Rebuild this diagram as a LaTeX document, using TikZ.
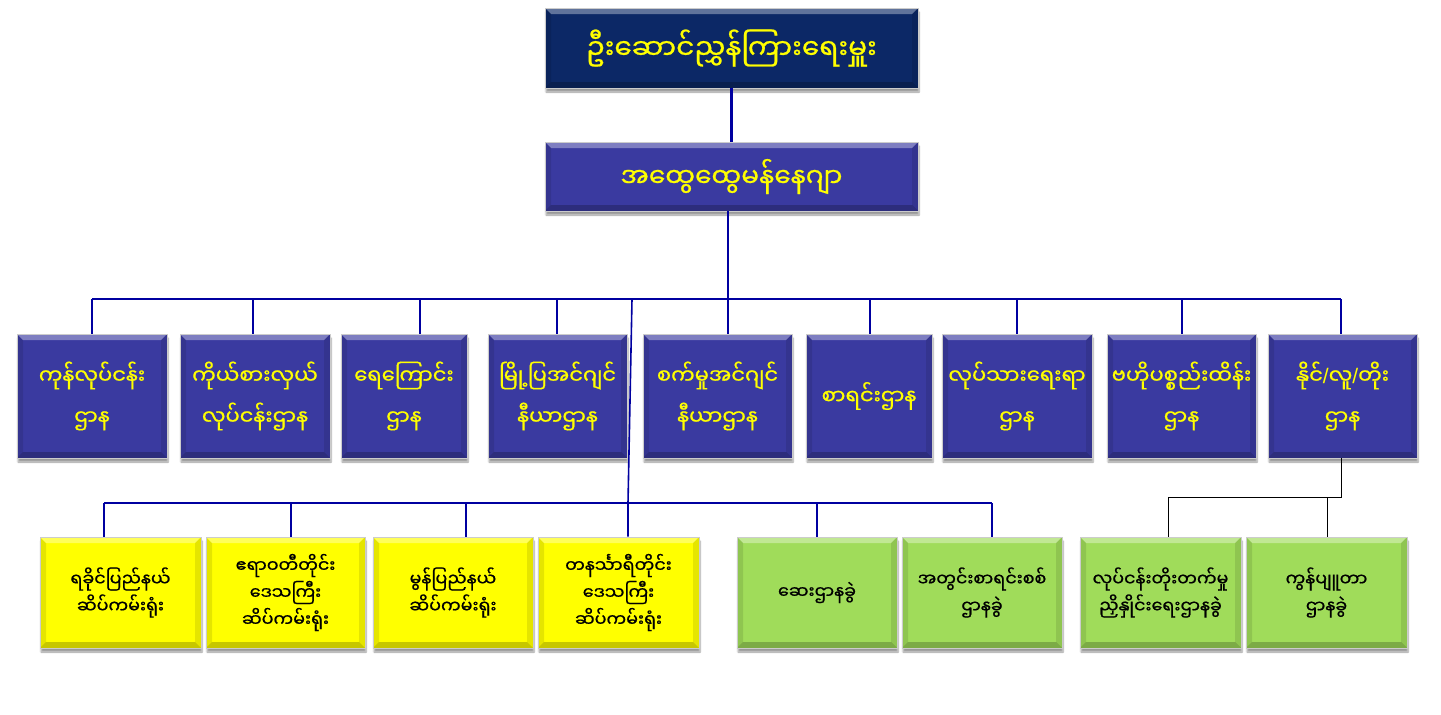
\documentclass[tikz,border=0pt]{standalone}
\usepackage{fontspec}
\newfontfamily\my[Script=Myanmar,FakeBold=0.8]{Noto Sans Myanmar UI}
\newfontfamily\lat{Liberation Sans}
\usetikzlibrary{shadows.blur,calc}
\definecolor{navy}{RGB}{12,40,102}
\definecolor{slate}{RGB}{58,58,160}
\definecolor{ylw}{RGB}{255,255,0}
\definecolor{grn}{RGB}{160,220,90}
\definecolor{conn}{RGB}{0,0,160}
\definecolor{txty}{RGB}{255,255,0}
\tikzset{
  bev/.style={path picture={
    \fill[white,opacity=.35] (path picture bounding box.north west) -- (path picture bounding box.north east)
      -- ([shift={(-6pt,-6pt)}]path picture bounding box.north east) -- ([shift={(6pt,-6pt)}]path picture bounding box.north west) -- cycle;
    \fill[black,opacity=.22] (path picture bounding box.south west) -- (path picture bounding box.south east)
      -- ([shift={(-6pt,6pt)}]path picture bounding box.south east) -- ([shift={(6pt,6pt)}]path picture bounding box.south west) -- cycle;
    \fill[black,opacity=.10] (path picture bounding box.north west) -- ([shift={(6pt,-6pt)}]path picture bounding box.north west)
      -- ([shift={(6pt,6pt)}]path picture bounding box.south west) -- (path picture bounding box.south west) -- cycle;
    \fill[black,opacity=.10] (path picture bounding box.north east) -- ([shift={(-6pt,-6pt)}]path picture bounding box.north east)
      -- ([shift={(-6pt,6pt)}]path picture bounding box.south east) -- (path picture bounding box.south east) -- cycle;
  }},
  box/.style={draw=black!20, line width=0.8pt, bev, inner sep=0pt, align=center,
    blur shadow={shadow xshift=1pt, shadow yshift=-4pt, shadow blur steps=6, shadow opacity=40}},
  topbox/.style={box, fill=navy, text=txty, minimum width=373pt, minimum height=80pt,
    font=\my\fontsize{28}{36}\selectfont},
  gmbox/.style={box, fill=slate, text=txty, minimum width=373pt, minimum height=69pt,
    font=\my\fontsize{26.5}{34}\selectfont},
  deptbox/.style={box, fill=slate, text=txty, minimum height=124pt,
    font=\my\fontsize{21}{41}\selectfont},
  ybox/.style={box, fill=ylw, text=black, minimum height=111pt,
    font=\my\fontsize{17.5}{27}\selectfont},
  gbox/.style={box, fill=grn, text=black, minimum height=111pt,
    font=\my\fontsize{17.5}{27}\selectfont},
  thickconn/.style={draw=conn, line width=3pt},
  busline/.style={draw=conn, line width=2.6pt},
  dropline/.style={draw=conn, line width=1.6pt},
  blackline/.style={draw=black, line width=1pt},
}
\begin{document}
\begin{tikzpicture}[x=1pt,y=-1pt]
\useasboundingbox (0,0) rectangle (1441,715);
% top
\node[topbox] (ceo) at (731.5,48) {ဦးဆောင်ညွှန်ကြားရေးမှူး};
\node[gmbox] (gm) at (731.5,176.5) {အထွေထွေမန်နေဂျာ};
% row 1
\node[deptbox, minimum width=150pt] (r1) at (92,396) {ကုန်လုပ်ငန်း\\ဌာန};
\node[deptbox, minimum width=150pt] (r2) at (255,396) {ကိုယ်စားလှယ်\\လုပ်ငန်းဌာန};
\node[deptbox, minimum width=126pt] (r3) at (404,396) {ရေကြောင်း\\ဌာန};
\node[deptbox, minimum width=139pt] (r4) at (557.5,396) {မြို့ပြအင်ဂျင်\\နီယာဌာန};
\node[deptbox, minimum width=149pt] (r5) at (717.5,396) {စက်မှုအင်ဂျင်\\နီယာဌာန};
\node[deptbox, minimum width=126pt] (r6) at (869,396) {စာရင်းဌာန};
\node[deptbox, minimum width=150pt] (r7) at (1017,396) {လုပ်သားရေးရာ\\ဌာန};
\node[deptbox, minimum width=149pt] (r8) at (1181.5,396) {ဗဟိုပစ္စည်းထိန်း\\ဌာန};
\node[deptbox, minimum width=149pt] (r9) at (1342.5,396) {နိုင်{\lat/}လူ{\lat/}တိုး\\ဌာန};
% row 2
\node[ybox, minimum width=161pt] (q1) at (120.5,592.5) {ရခိုင်ပြည်နယ်\\ဆိပ်ကမ်းရုံး};
\node[ybox, minimum width=159pt] (q2) at (285.5,592.5) {ဧရာဝတီတိုင်း\\ဒေသကြီး\\ဆိပ်ကမ်းရုံး};
\node[ybox, minimum width=160pt] (q3) at (453,592.5) {မွန်ပြည်နယ်\\ဆိပ်ကမ်းရုံး};
\node[ybox, minimum width=161pt] (q4) at (618.5,592.5) {တနင်္သာရီတိုင်း\\ဒေသကြီး\\ဆိပ်ကမ်းရုံး};
\node[gbox, minimum width=160pt] (q5) at (817,592.5) {ဆေးဌာနခွဲ};
\node[gbox, minimum width=160pt] (q6) at (982,592.5) {အတွင်းစာရင်းစစ်\\ဌာနခွဲ};
\node[gbox, minimum width=161pt] (q7) at (1160.5,592.5) {လုပ်ငန်းတိုးတက်မှု\\ညှိနှိုင်းရေးဌာနခွဲ};
\node[gbox, minimum width=161pt] (q8) at (1326.5,592.5) {ကွန်ပျူတာ\\ဌာနခွဲ};
% connectors
\draw[thickconn] (ceo.south) -- (gm.north);
\coordinate (gmout) at (728,211);
\coordinate (busL) at (92,299);
\coordinate (busR) at (1341,299);
\draw[dropline] (gmout) -- (gmout |- busL);
\draw[busline] (busL) -- (busR);
\foreach \n/\x in {r1/92, r2/253, r3/420, r4/557, r5/728, r6/870, r7/1017, r8/1182, r9/1341}{
  \coordinate (d\n) at (\x,299);
  \draw[dropline] (d\n) -- (d\n |- \n.north);
}
% long line to row 2
\coordinate (lt) at (632,299);
\coordinate (lb) at (628,503);
\draw[dropline] (lt) -- (lb) -- (lb |- q4.north);
% row 2 bus
\coordinate (b2L) at (104,503);
\coordinate (b2R) at (992,503);
\draw[busline] (b2L) -- (b2R);
\foreach \n/\x in {q1/104, q2/291, q3/466, q5/817, q6/992}{
  \coordinate (e\n) at (\x,503);
  \draw[dropline] (e\n) -- (e\n |- \n.north);
}
% right branch
\coordinate (rb) at (1341,497);
\coordinate (rl) at (1168,497);
\coordinate (rm) at (1327,497);
\draw[blackline] (r9.south -| rb) -- (rb) -- (rl) -- (rl |- q7.north);
\draw[blackline] (rm) -- (rm |- q8.north);
\end{tikzpicture}
\end{document}
